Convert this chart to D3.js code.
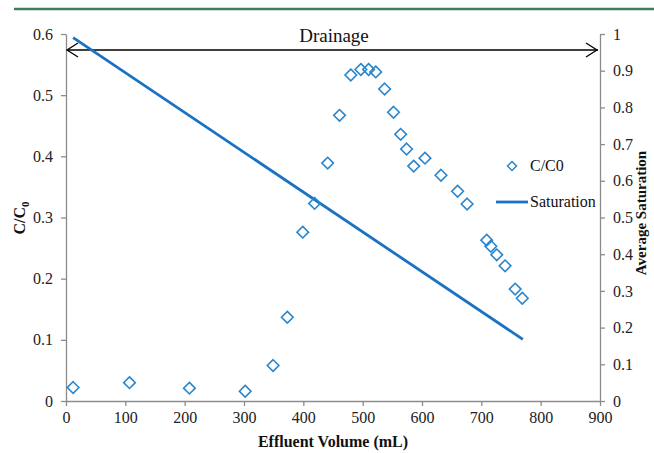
<!DOCTYPE html>
<html><head><meta charset="utf-8">
<script src="https://cdn.jsdelivr.net/npm/d3@7"></script>
<style>
body{margin:0;background:#fff;}
svg{display:block;font-family:'Liberation Serif','Times New Roman',serif;}
svg text{font-family:'Liberation Serif','Times New Roman',serif;}
</style></head>
<body><svg id="chart" width="654" height="453"></svg>
<script>
const volume = [12,107,208,302,349,373,399,419,441,461,480,497,510,522,537,552,564,574,586,605,632,660,676,709,716,726,740,757,769];
const conc = [0.022,0.030,0.021,0.016,0.058,0.137,0.276,0.323,0.389,0.467,0.533,0.542,0.542,0.538,0.510,0.472,0.436,0.412,0.384,0.397,0.369,0.343,0.322,0.263,0.253,0.239,0.221,0.183,0.168];
const satVolume = [12,770];
const saturation = [0.99,0.168];
const xTicks = [0,100,200,300,400,500,600,700,800,900];
const yTicks = [0,0.1,0.2,0.3,0.4,0.5,0.6];
const y2Ticks = [0,0.1,0.2,0.3,0.4,0.5,0.6,0.7,0.8,0.9,1];

const svg = d3.select("#chart");
const L=66,R=600,T=34,B=401;
const x = d3.scaleLinear().domain([0,900]).range([L,R]);
const y = d3.scaleLinear().domain([0,0.6]).range([B,T]);
const y2 = d3.scaleLinear().domain([0,1]).range([B,T]);
const axisColor="#8c8c8c";
const serif = "'Liberation Serif','Times New Roman',serif";

// top green rule
svg.append("line").attr("x1",14).attr("x2",654).attr("y1",9).attr("y2",9)
  .attr("stroke","#3b7f57").attr("stroke-width",2.5);

function styleAxis(g){
  g.attr("font-family",serif).attr("font-size",16);
  g.select(".domain").attr("stroke",axisColor).attr("stroke-width",1.3);
  g.selectAll(".tick line").attr("stroke",axisColor).attr("stroke-width",1.3);
  g.selectAll(".tick text").attr("fill","#222");
}
const xAxis = svg.append("g").attr("transform",`translate(0,${B})`)
  .call(d3.axisBottom(x).tickValues(xTicks).tickFormat(d3.format("d")).tickSize(5).tickSizeOuter(0).tickPadding(6));
styleAxis(xAxis);
const yAxis = svg.append("g").attr("transform",`translate(${L},0)`)
  .call(d3.axisLeft(y).tickValues(yTicks).tickFormat(d=>d===0?"0":d3.format(".1f")(d)).tickSize(5).tickSizeOuter(0).tickPadding(8));
styleAxis(yAxis);
const y2Axis = svg.append("g").attr("transform",`translate(${R},0)`)
  .call(d3.axisRight(y2).tickValues(y2Ticks).tickFormat(d=>(d===0||d===1)?String(d):d3.format(".1f")(d)).tickSize(5).tickSizeOuter(0).tickPadding(8));
styleAxis(y2Axis);

// Drainage arrow
const ay = 50;
svg.append("line").attr("x1",x(0)+1).attr("x2",x(900)-2).attr("y1",ay).attr("y2",ay)
  .attr("stroke","#000").attr("stroke-width",1.5);
svg.append("path").attr("d",`M${x(0)+12},${ay-7}L${x(0)+1},${ay}L${x(0)+12},${ay+7}`)
  .attr("fill","none").attr("stroke","#000").attr("stroke-width",1.3);
svg.append("path").attr("d",`M${x(900)-14},${ay-7}L${x(900)-3},${ay}L${x(900)-14},${ay+7}`)
  .attr("fill","none").attr("stroke","#000").attr("stroke-width",1.3);
svg.append("text").attr("x",334).attr("y",42).attr("text-anchor","middle")
  .style("font-size","19px").attr("fill","#111").text("Drainage");

// Saturation line
const line = d3.line().x((d,i)=>x(satVolume[i])).y(d=>y2(d));
svg.append("path").datum(saturation).attr("d",line)
  .attr("fill","none").attr("stroke","#1a72c4").attr("stroke-width",2.8);

// C/C0 diamonds
const diamond = (cx,cy,s)=>`M${cx},${cy-s}L${cx+s},${cy}L${cx},${cy+s}L${cx-s},${cy}Z`;
svg.append("g").selectAll("path").data(conc).join("path")
  .attr("d",(d,i)=>diamond(x(volume[i]),y(d),5.8))
  .attr("fill","none").attr("stroke","#2a86cc").attr("stroke-width",1.6);

// Legend
svg.append("path").attr("d",diamond(512,166,4.5)).attr("fill","none").attr("stroke","#2a86cc").attr("stroke-width",1.5);
svg.append("text").attr("x",530).attr("y",171).style("font-size","16px").attr("fill","#111").text("C/C0");
svg.append("line").attr("x1",496).attr("x2",528).attr("y1",202).attr("y2",202)
  .attr("stroke","#1a72c4").attr("stroke-width",2.8);
svg.append("text").attr("x",530).attr("y",207).style("font-size","16px").attr("fill","#111").text("Saturation");

// Axis titles
svg.append("text").attr("x",(L+R)/2).attr("y",447).attr("text-anchor","middle")
  .style("font-size","16px").style("font-weight","bold").attr("fill","#111").text("Effluent Volume (mL)");
const yt = svg.append("text").attr("transform","translate(25,218) rotate(-90)").attr("text-anchor","middle")
  .style("font-size","16px").style("font-weight","bold").attr("fill","#111");
yt.append("tspan").text("C/C");
yt.append("tspan").attr("dy",4).style("font-size","11px").text("0");
svg.append("text").attr("transform","translate(646,213) rotate(-90)").attr("text-anchor","middle")
  .style("font-size","15px").style("font-weight","bold").attr("fill","#111").text("Average Saturation");
</script></body></html>
